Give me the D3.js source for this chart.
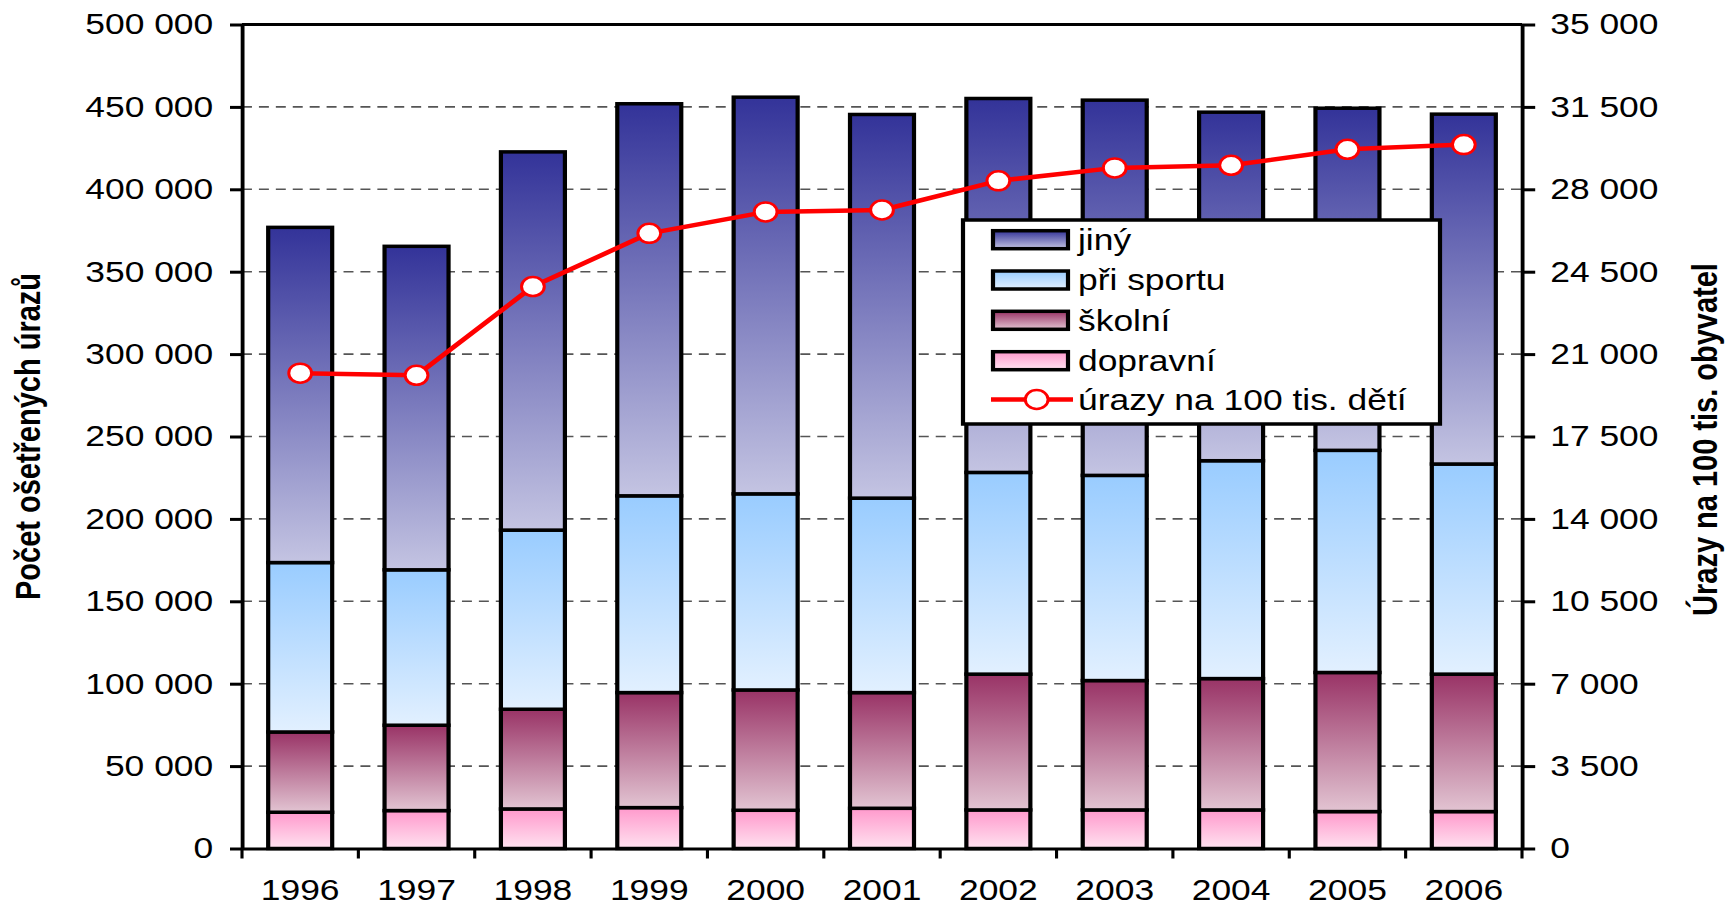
<!DOCTYPE html>
<html>
<head>
<meta charset="utf-8">
<script src="https://cdn.jsdelivr.net/npm/d3@7/dist/d3.min.js"></script>
<style>
body { margin: 0; background: #fff; }
svg { display: block; }
text { font-family: "Liberation Sans", Arial, sans-serif; fill: #000; }
</style>
</head>
<body>
<div class="chart-parent"></div>
<script>
// data
var years = ["1996", "1997", "1998", "1999", "2000", "2001", "2002", "2003", "2004", "2005", "2006"];
var dopravni = [22000, 23000, 24000, 24800, 23200, 24400, 23400, 23400, 23400, 22400, 22400];
var skolni   = [48700, 51800, 60500, 69800, 73000, 70200, 82400, 78500, 79700, 84400, 83400];
var sport    = [102800, 94300, 108700, 119400, 119000, 118000, 122400, 124500, 132200, 134800, 127500];
var jiny     = [203400, 196300, 229500, 237900, 240700, 232800, 226900, 227700, 211500, 207600, 212300];
var urazyNa100 = [20190, 20100, 23870, 26130, 27040, 27120, 28360, 28910, 29020, 29700, 29900];

var leftTicks = [0, 50000, 100000, 150000, 200000, 250000, 300000, 350000, 400000, 450000, 500000];
var rightTicks = [0, 3500, 7000, 10500, 14000, 17500, 21000, 24500, 28000, 31500, 35000];

var seriesKeys = ["dopravni", "skolni", "sport", "jiny"];
var seriesNames = {dopravni: "dopravní", skolni: "školní", sport: "při sportu", jiny: "jiný"};
var lineName = "úrazy na 100 tis. dětí";
var leftTitle = "Počet ošetřených úrazů";
var rightTitle = "Úrazy na 100 tis. obyvatel";

drawChart();

function drawChart(){
    // the original picture is stretched sideways, so draw narrow and let the viewBox stretch it
    var stretch = 1.2;
    var W = 1729 / stretch, H = 906;
    var left = 242 / stretch, right = 1522 / stretch, top = 24.5, bottom = 848.5;
    var fontSize = 29.5;

    var fmt = d3.formatLocale({decimal: ",", thousands: " ", grouping: [3], currency: ["", ""]}).format(",d");

    var svg = d3.select(".chart-parent").append("svg")
        .attr("width", 1729)
        .attr("height", H)
        .attr("viewBox", "0 0 " + W + " " + H)
        .attr("preserveAspectRatio", "none");

    var gradColors = {
        jiny: ["#333399", "#c4c4e2"],
        sport: ["#99ccff", "#e2f0ff"],
        skolni: ["#993366", "#e2c4d2"],
        dopravni: ["#ff99cc", "#ffe2f0"]
    };
    var defs = svg.append("defs");
    seriesKeys.forEach(function(k){
        var g = defs.append("linearGradient").attr("id", "grad-" + k)
            .attr("x1", 0).attr("y1", 0).attr("x2", 0).attr("y2", 1);
        g.append("stop").attr("offset", "0%").attr("stop-color", gradColors[k][0]);
        g.append("stop").attr("offset", "100%").attr("stop-color", gradColors[k][1]);
    });

    var x = d3.scaleBand().domain(years).range([left, right])
        .paddingInner(0.45).paddingOuter(0.225);
    var y = d3.scaleLinear().domain([0, 500000]).range([bottom, top]);
    var y2 = d3.scaleLinear().domain([0, 35000]).range([bottom, top]);

    // gridlines
    svg.append("g").selectAll("line")
        .data(leftTicks.filter(function(d){ return d > 0 && d < 500000; }))
        .enter().append("line")
        .attr("x1", left).attr("x2", right)
        .attr("y1", function(d){ return y(d); })
        .attr("y2", function(d){ return y(d); })
        .attr("stroke", "#555")
        .attr("stroke-width", 1.6)
        .attr("stroke-dasharray", "8.3,5.8");

    // stacked bars
    var table = years.map(function(yr, i){
        return {year: yr, dopravni: dopravni[i], skolni: skolni[i], sport: sport[i], jiny: jiny[i]};
    });
    var stacked = d3.stack().keys(seriesKeys)(table);

    svg.append("g").selectAll("g")
        .data(stacked)
        .enter().append("g")
        .attr("fill", function(d){ return "url(#grad-" + d.key + ")"; })
        .selectAll("rect")
        .data(function(d){ return d; })
        .enter().append("rect")
        .attr("x", function(d){ return x(d.data.year); })
        .attr("width", x.bandwidth())
        .attr("y", function(d){ return y(d[1]); })
        .attr("height", function(d){ return y(d[0]) - y(d[1]); })
        .attr("stroke", "#000")
        .attr("stroke-width", 3.5);

    // line on the right axis
    var line = d3.line()
        .x(function(d, i){ return x(years[i]) + x.bandwidth() / 2; })
        .y(function(d){ return y2(d); });
    svg.append("path").datum(urazyNa100)
        .attr("d", line)
        .attr("fill", "none")
        .attr("stroke", "#ff0000")
        .attr("stroke-width", 4.5)
        .attr("stroke-linejoin", "round");
    svg.append("g").selectAll("circle")
        .data(urazyNa100)
        .enter().append("circle")
        .attr("cx", function(d, i){ return x(years[i]) + x.bandwidth() / 2; })
        .attr("cy", function(d){ return y2(d); })
        .attr("r", 9.5)
        .attr("fill", "#fff")
        .attr("stroke", "#ff0000")
        .attr("stroke-width", 2.5);

    // top border of plot area
    svg.append("line")
        .attr("x1", left).attr("x2", right)
        .attr("y1", top).attr("y2", top)
        .attr("stroke", "#000").attr("stroke-width", 3);

    // left axis
    var axL = svg.append("g").attr("transform", "translate(" + left + ",0)")
        .call(d3.axisLeft(y).tickValues(leftTicks).tickFormat(fmt)
            .tickSize(10).tickSizeOuter(0).tickPadding(14));
    // right axis
    var axR = svg.append("g").attr("transform", "translate(" + right + ",0)")
        .call(d3.axisRight(y2).tickValues(rightTicks).tickFormat(fmt)
            .tickSize(11).tickSizeOuter(0).tickPadding(12.5));
    // bottom axis - labels only, ticks go between the categories
    var axB = svg.append("g").attr("transform", "translate(0," + bottom + ")")
        .call(d3.axisBottom(x).tickSize(0).tickSizeOuter(0));
    axB.selectAll("text").attr("y", 0).attr("dy", 0)
        .attr("transform", "translate(0,51.5)");

    var half = (x.step() - x.bandwidth()) / 2;
    var bounds = years.map(function(d){ return x(d) - half; });
    bounds.push(x(years[years.length - 1]) + x.bandwidth() + half);
    axB.selectAll(".cat-tick").data(bounds).enter().append("line")
        .attr("class", "cat-tick")
        .attr("x1", function(d){ return d; }).attr("x2", function(d){ return d; })
        .attr("y1", 0).attr("y2", 10)
        .attr("stroke", "#000").attr("stroke-width", 2.6);

    [axL, axR, axB].forEach(function(ax){
        ax.select(".domain").attr("stroke", "#000").attr("stroke-width", 3.2);
        ax.selectAll(".tick line").attr("stroke", "#000").attr("stroke-width", 3);
        ax.selectAll("text").attr("font-size", fontSize)
            .attr("font-family", "'Liberation Sans', Arial, sans-serif").attr("fill", "#000");
    });

    // axis titles
    svg.append("text")
        .attr("transform", "translate(" + (40 / stretch) + "," + ((top + bottom) / 2) + ") rotate(-90)")
        .attr("text-anchor", "middle")
        .attr("font-size", 29)
        .attr("font-weight", "bold")
        .text(leftTitle);
    svg.append("text")
        .attr("transform", "translate(" + (1717 / stretch) + "," + ((top + bottom) / 2 + 3) + ") rotate(-90)")
        .attr("text-anchor", "middle")
        .attr("font-size", 29)
        .attr("font-weight", "bold")
        .text(rightTitle);

    // legend
    var lg = svg.append("g");
    var lgX = 963 / stretch, lgW = (1440 - 963) / stretch;
    lg.append("rect")
        .attr("x", lgX).attr("y", 220)
        .attr("width", lgW).attr("height", 204)
        .attr("fill", "#fff").attr("stroke", "#000").attr("stroke-width", 3.5);
    var rowsY = [239.7, 280, 320.3, 360.7, 399.5];
    var legendKeys = ["jiny", "sport", "skolni", "dopravni"];
    var swX = 993 / stretch, swW = (1068 - 993) / stretch, txtX = 1078 / stretch;
    legendKeys.forEach(function(k, i){
        lg.append("rect")
            .attr("x", swX).attr("y", rowsY[i] - 9)
            .attr("width", swW).attr("height", 18)
            .attr("fill", "url(#grad-" + k + ")")
            .attr("stroke", "#000").attr("stroke-width", 3.5);
        lg.append("text")
            .attr("x", txtX).attr("y", rowsY[i]).attr("dy", "0.35em")
            .attr("font-size", fontSize)
            .text(seriesNames[k]);
    });
    var ly = rowsY[4];
    lg.append("line")
        .attr("x1", 991 / stretch).attr("x2", 1073 / stretch)
        .attr("y1", ly).attr("y2", ly)
        .attr("stroke", "#ff0000").attr("stroke-width", 4.5);
    lg.append("circle")
        .attr("cx", 1036.7 / stretch).attr("cy", ly).attr("r", 9.5)
        .attr("fill", "#fff").attr("stroke", "#ff0000").attr("stroke-width", 2.5);
    lg.append("text")
        .attr("x", txtX).attr("y", ly).attr("dy", "0.35em")
        .attr("font-size", fontSize)
        .text(lineName);
}
</script>
</body>
</html>
